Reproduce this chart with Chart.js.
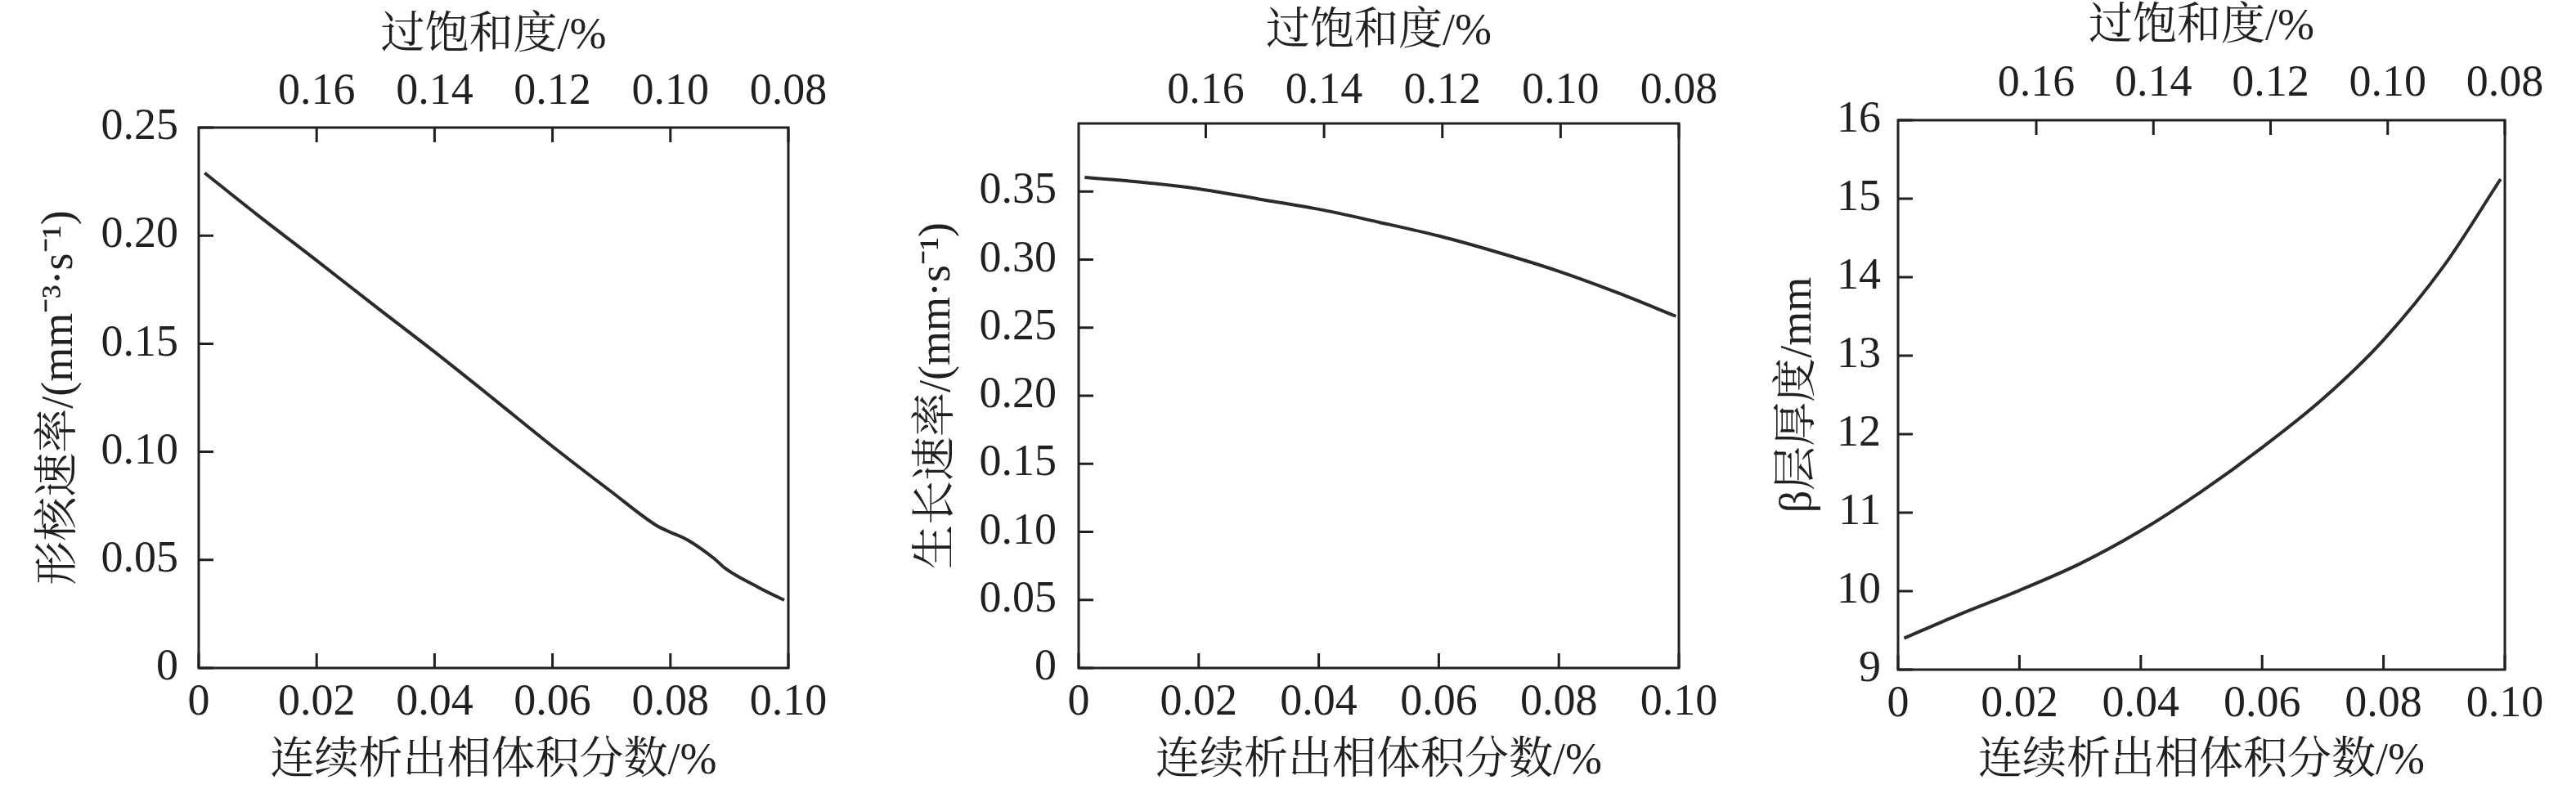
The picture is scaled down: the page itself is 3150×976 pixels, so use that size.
<!DOCTYPE html>
<html><head><meta charset="utf-8">
<script src="https://cdn.jsdelivr.net/npm/chart.js@4.4.1/dist/chart.umd.min.js"></script>
<style>
html,body{margin:0;padding:0;background:#fff;width:3150px;height:976px;overflow:hidden;}
canvas{position:absolute;top:0;}
</style></head><body>
<canvas id="c1" width="1060" height="976" style="left:0px"></canvas>
<canvas id="c2" width="1070" height="976" style="left:1060px"></canvas>
<canvas id="c3" width="1020" height="976" style="left:2130px"></canvas>
<script>
// ---- data ----
const xTickValues = [0, 0.02, 0.04, 0.06, 0.08, 0.10];
const xTickLabels = ['0', '0.02', '0.04', '0.06', '0.08', '0.10'];
const topTickValues = [0.16, 0.14, 0.12, 0.10, 0.08];
const topTickLabels = ['0.16', '0.14', '0.12', '0.10', '0.08'];
const xTitle = '连续析出相体积分数/%';
const topTitle = '过饱和度/%';

const nucX = [0.001, 0.01, 0.02, 0.03, 0.04, 0.05, 0.06, 0.07, 0.0777, 0.080, 0.0828, 0.0874, 0.0893, 0.095, 0.0993];
const nucY = [0.229, 0.2095, 0.1885, 0.1672, 0.1462, 0.1245, 0.1025, 0.0815, 0.0658, 0.0628, 0.0594, 0.0507, 0.0461, 0.0372, 0.0314];
const nucTicks = [0, 0.05, 0.10, 0.15, 0.20, 0.25];
const nucTickLabels = ['0', '0.05', '0.10', '0.15', '0.20', '0.25'];
const nucTitle = '形核速率/(mm⁻³·s⁻¹)';

const growX = [0.001, 0.01, 0.02, 0.03, 0.04, 0.05, 0.06, 0.07, 0.08, 0.09, 0.0995];
const growY = [0.3603, 0.357, 0.352, 0.3445, 0.337, 0.3275, 0.3174, 0.3051, 0.2914, 0.2753, 0.2584];
const growTicks = [0, 0.05, 0.10, 0.15, 0.20, 0.25, 0.30, 0.35];
const growTickLabels = ['0', '0.05', '0.10', '0.15', '0.20', '0.25', '0.30', '0.35'];
const growTitle = '生长速率/(mm·s⁻¹)';

const betaX = [0.001, 0.01, 0.02, 0.03, 0.04, 0.05, 0.06, 0.07, 0.08, 0.09, 0.0993];
const betaY = [9.40, 9.70, 10.01, 10.35, 10.77, 11.27, 11.83, 12.45, 13.20, 14.15, 15.25];
const betaTicks = [9, 10, 11, 12, 13, 14, 15, 16];
const betaTickLabels = ['9', '10', '11', '12', '13', '14', '15', '16'];
const betaTitle = 'β层厚度/mm';

// ---- style ----
const INK = '#231f20';
const FAMILY = '"Liberation Serif", "Noto Serif CJK SC", "Noto Sans CJK SC", serif';
const tickFont = {family: FAMILY, size: 54};
const titleFont = {family: FAMILY, size: 54, lineHeight: 1};

const framePlugin = {
  id: 'frame',
  afterDraw(chart) {
    const {ctx, chartArea: a, scales} = chart;
    const L = 18;
    ctx.save();
    ctx.strokeStyle = INK;
    ctx.lineWidth = 3;
    ctx.strokeRect(a.left, a.top, a.right - a.left, a.bottom - a.top);
    ctx.beginPath();
    scales.y.ticks.forEach(t => {
      const p = scales.y.getPixelForValue(t.value);
      ctx.moveTo(a.left, p); ctx.lineTo(a.left + L, p);
    });
    scales.x.ticks.forEach(t => {
      const p = scales.x.getPixelForValue(t.value);
      ctx.moveTo(p, a.bottom); ctx.lineTo(p, a.bottom - L);
    });
    scales.x2.ticks.forEach(t => {
      const p = scales.x2.getPixelForValue(t.value);
      ctx.moveTo(p, a.top); ctx.lineTo(p, a.top + L);
    });
    ctx.stroke();
    ctx.restore();
  }
};

function makeChart(id, xs, ys, yTicks, yLabels, yTitle, yMin, yMax, topMax, L) {
  const pts = xs.map((x, i) => ({x: x, y: ys[i]}));
  return new Chart(document.getElementById(id), {
    type: 'line',
    data: {datasets: [{
      data: pts,
      borderColor: '#2b2b2b',
      borderWidth: 4,
      pointRadius: 0,
      fill: false,
      cubicInterpolationMode: 'monotone'
    }]},
    options: {
      responsive: false,
      animation: false,
      devicePixelRatio: 1,
      layout: {padding: {left: 0, right: L.padRight, top: 0, bottom: 0}},
      plugins: {legend: {display: false}, tooltip: {enabled: false}},
      scales: {
        x: {
          type: 'linear', position: 'bottom', min: 0, max: 0.10,
          grid: {display: false, drawTicks: false}, border: {display: false},
          afterBuildTicks: s => { s.ticks = xTickValues.map(v => ({value: v})); },
          afterFit: s => { s.height = L.bottomH; },
          ticks: {font: tickFont, color: INK, padding: 10, maxRotation: 0, autoSkip: false,
                  callback: (v, i) => xTickLabels[i]},
          title: {display: true, text: xTitle, font: titleFont, color: INK, padding: {top: 0, bottom: 17}}
        },
        x2: {
          type: 'linear', position: 'top', min: 0.08, max: topMax, reverse: true,
          grid: {display: false, drawTicks: false}, border: {display: false},
          afterBuildTicks: s => { s.ticks = topTickValues.map(v => ({value: v})); },
          afterFit: s => { s.height = L.topH; },
          ticks: {font: tickFont, color: INK, padding: L.topPad, maxRotation: 0, autoSkip: false,
                  callback: (v, i) => topTickLabels[i]},
          title: {display: true, text: topTitle, font: titleFont, color: INK, padding: {top: L.topTitlePad, bottom: 0}}
        },
        y: {
          type: 'linear', position: 'left', min: yMin, max: yMax,
          grid: {display: false, drawTicks: false}, border: {display: false},
          afterBuildTicks: s => { s.ticks = yTicks.map(v => ({value: v})); },
          afterFit: s => { s.width = L.leftW; },
          ticks: {font: tickFont, color: INK, padding: L.yPad, autoSkip: false,
                  callback: (v, i) => yLabels[i]},
          title: {display: true, text: yTitle, font: titleFont, color: INK, padding: {top: L.yTitlePad, bottom: 0}}
        }
      }
    },
    plugins: [framePlugin]
  });
}

makeChart('c1', nucX, nucY, nucTicks, nucTickLabels, nucTitle, 0, 0.25, 0.18,
  {padRight: 96, bottomH: 159, topH: 156, leftW: 243, topPad: 11, topTitlePad: 18, yPad: 25, yTitlePad: 47});
makeChart('c2', growX, growY, growTicks, growTickLabels, growTitle, 0, 0.40, 0.1815,
  {padRight: 77, bottomH: 159, topH: 151, leftW: 259, topPad: 7, topTitlePad: 13, yPad: 27, yTitlePad: 60});
makeChart('c3', betaX, betaY, betaTicks, betaTickLabels, betaTitle, 9, 16, 0.1836,
  {padRight: 87, bottomH: 157, topH: 147, leftW: 191, topPad: 12, topTitlePad: 7, yPad: 21, yTitlePad: 43});
</script>
</body></html>
